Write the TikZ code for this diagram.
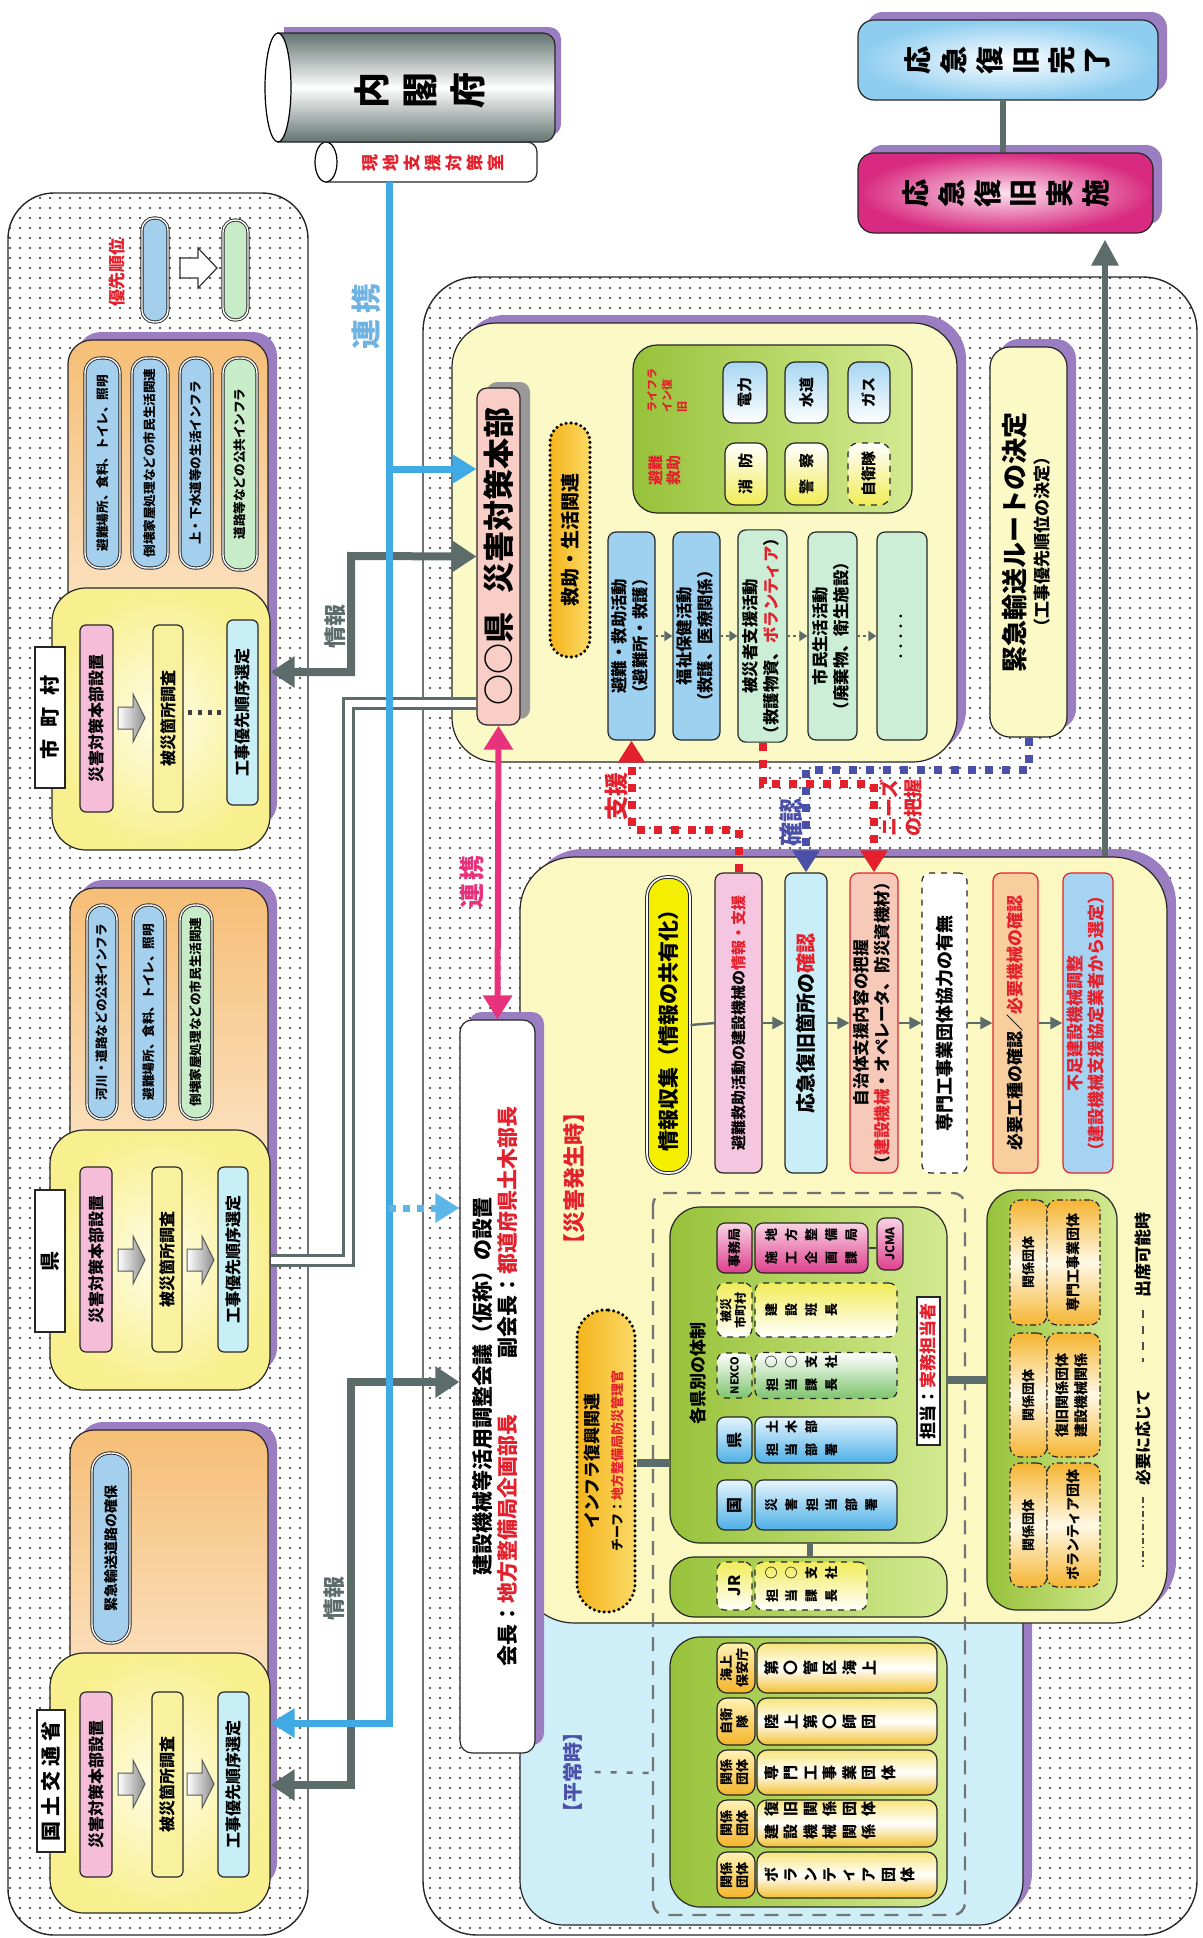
\documentclass[tikz,border=0pt]{standalone}
\usepackage{fontspec}
\setmainfont{Noto Sans CJK JP}
\usepackage{graphicx}
\usetikzlibrary{patterns.meta,arrows.meta,shadows}

\definecolor{jred}{HTML}{E4202C}
\definecolor{shp}{HTML}{9B7DC2}
\definecolor{lnk}{HTML}{3FAAE4}
\definecolor{lnktxt}{HTML}{6FB3E3}
\definecolor{gln}{HTML}{5C6C6A}
\definecolor{mag}{HTML}{E8327C}
\definecolor{navy}{HTML}{4A4FA8}
\definecolor{orbg}{HTML}{F6BE76}
\definecolor{pillblue}{HTML}{A4D0EE}
\definecolor{pillgreen}{HTML}{C8ECC8}
\definecolor{ylin}{HTML}{FEFDE6}
\definecolor{ylout}{HTML}{F8EF8E}
\definecolor{stpink}{HTML}{F5BDD8}
\definecolor{styel}{HTML}{F8F29E}
\definecolor{stcyan}{HTML}{C9EFF6}
\definecolor{cylgray}{HTML}{637470}
\definecolor{prefy}{HTML}{FBF9C6}
\definecolor{hqpink}{HTML}{F8CEC6}
\definecolor{orA}{HTML}{F5B41C}
\definecolor{orB}{HTML}{FBDA66}
\definecolor{grA}{HTML}{97C23A}
\definecolor{grB}{HTML}{D4EA92}
\definecolor{lbA}{HTML}{A6D6F1}
\definecolor{lyA}{HTML}{F1EC55}
\definecolor{acblue}{HTML}{9ED0F0}
\definecolor{acgreen}{HTML}{CCEED6}
\definecolor{magA}{HTML}{D82A80}
\definecolor{magB}{HTML}{FCE2EF}
\definecolor{kbA}{HTML}{8ECDF0}
\definecolor{hassy}{HTML}{FBF8C2}
\definecolor{heicy}{HTML}{CFEFF8}
\definecolor{fyel}{HTML}{F4EF00}
\definecolor{fpink}{HTML}{F4C6E0}
\definecolor{fcyan}{HTML}{C9EEF8}
\definecolor{fsalm}{HTML}{F7C9B8}
\definecolor{forng}{HTML}{F9CE9E}
\definecolor{fblue}{HTML}{A7D3F2}
\definecolor{hmA}{HTML}{DE3F8C}
\definecolor{hmB}{HTML}{F9D3E5}
\definecolor{hyA}{HTML}{F2EC5A}
\definecolor{hgA}{HTML}{7DC46C}
\definecolor{hbA}{HTML}{4DAFE6}
\definecolor{hbB}{HTML}{E6F5FD}
\definecolor{kgA}{HTML}{F5B532}
\definecolor{kgB}{HTML}{FFF9E6}
\definecolor{phA}{HTML}{F4B42A}
\definecolor{phB}{HTML}{FFF2B5}
\definecolor{plA}{HTML}{F7E57A}
\definecolor{plB}{HTML}{F2C130}

% font size / leading in pt
\newcommand\fz[2]{\fontsize{#1pt}{#2pt}\selectfont}
% text turned a quarter left (reads upwards)
\newcommand\rt[2]{\fz{#1}{#1}\rotatebox{90}{#2}}
\newcommand\rtt[3]{\fz{#1}{#2}\rotatebox{90}{\begin{tabular}{@{}c@{}}#3\end{tabular}}}
\newcommand\rttl[3]{\fz{#1}{#2}\rotatebox{90}{\begin{tabular}{@{}l@{}}#3\end{tabular}}}
% vertical writing turned a quarter left: one turned glyph per cell
\ExplSyntaxOn
\NewDocumentCommand\tate{O{1.25em}m}{\tl_map_inline:nn{#2}{\makebox[#1]{\rotatebox{90}{##1}}}}
\ExplSyntaxOff
% box node from its corners: style, name, x1, y1, x2, y2, text
\newcommand\bxn[7]{\node[#1,minimum width={(#5-(#3))*0.5pt},minimum height={(#6-(#4))*0.5pt}] (#2) at ({(#3+#5)/2},{(#4+#6)/2}) {#7};}
% grey block arrow pointing right
\newcommand\blockarrow[2]{\draw[barr,shift={(#1,#2)}] (0,-11) -- (15,-11) -- (15,-24) -- (27,0) -- (15,24) -- (15,11) -- (0,11) -- cycle;}

\begin{document}
\begin{tikzpicture}[x=0.5pt,y=-0.5pt,every node/.style={font=\bfseries},
  bx/.style={draw=black!85,line width=0.6pt,inner sep=0pt},
  psh/.style={general shadow={fill=shp,shadow xshift=4.5pt,shadow yshift=4pt}},
  dotreg/.style={draw=black!85,line width=0.7pt,rounded corners=23pt,pattern={Dots[distance=5pt,radius=0.6pt]},pattern color=black!85},
  orbox/.style={bx,rounded corners=12pt,top color=orbg,bottom color=white,psh},
  pillb/.style={bx,rounded corners=7.5pt,fill=pillblue,double=white,double distance=0.7pt,line width=0.45pt},
  pillg/.style={pillb,fill=pillgreen},
  ylbox/.style={bx,rounded corners=17pt,inner color=ylin,outer color=ylout},
  tabbox/.style={bx,fill=white},
  stp/.style={bx,rounded corners=3pt,fill=stpink},
  sty/.style={stp,fill=styel},
  stc/.style={stp,fill=stcyan},
  barr/.style={draw=black!65,line width=0.5pt,left color=white,right color=black!45},
  lbbox/.style={bx,rounded corners=5pt,top color=lbA,bottom color=white},
  lybox/.style={bx,rounded corners=5pt,top color=white,bottom color=lyA},
  acb/.style={bx,rounded corners=4pt,fill=acblue},
  acg/.style={acb,fill=acgreen},
  grbox/.style={bx,rounded corners=15pt,left color=grA,right color=grB},
  orpill/.style={bx,draw=black,line width=1.7pt,dash pattern=on 0pt off 2.5pt,line cap=round,left color=orA,right color=orB},
  hdmag/.style={bx,rounded corners=4pt,top color=hmB,bottom color=hmA},
  hdyel/.style={bx,rounded corners=4pt,top color=hyA,bottom color=white,dashed},
  hdgrn/.style={bx,rounded corners=4pt,top color=white,bottom color=hgA,dashed},
  hdblu/.style={bx,rounded corners=4pt,top color=hbB,bottom color=hbA},
  ddline/.style={dash pattern=on 3pt off 1.5pt on 0.8pt off 1.5pt},
  orgbx/.style={bx,rounded corners=5pt,ddline,top color=kgA,bottom color=kgA,middle color=kgB},
  phd/.style={bx,rounded corners=5pt,top color=phB,bottom color=phA},
  plg/.style={bx,rounded corners=5pt,top color=plA,bottom color=plB,middle color=white},
  fbox/.style={bx,rounded corners=4pt},
  garr/.style={draw=gln,line width=4pt,{Triangle[width=15pt,length=12pt]}-{Triangle[width=15pt,length=12pt]}},
  barrow/.style={draw=lnk,line width=3.5pt,-{Triangle[width=14pt,length=12pt]}},
  farr/.style={draw=gln,line width=1.2pt,-{Triangle[width=6pt,length=6pt]}},
  smallarr/.style={draw=gln,line width=1.4pt,dash pattern=on 1.4pt off 1.4pt,-{Triangle[width=5pt,length=4pt]}},
  rdot/.style={draw=jred,line width=4pt,dash pattern=on 4pt off 4.5pt,-{Triangle[width=13pt,length=11pt]}},
  ndot/.style={rdot,draw=navy}
]
\useasboundingbox (0,0) rectangle (1203,1938);

% ---------- grouped regions ----------
\draw[dotreg] (8,193) rectangle (308,1935);
\draw[dotreg,rounded corners=27pt] (423,277) rectangle (1197,1935);

% ---------- legend ----------
\node[text=jred] (prio) at (117,272) {\rt{8.5}{優先順位}};
\bxn{pillb,rounded corners=6pt}{lgb}{142}{218}{168}{322}{}
\draw[draw=black!80,fill=white,line width=0.6pt] (180,258) -- (198,258) -- (198,248) -- (217,268) -- (198,288) -- (198,278) -- (180,278) -- cycle;
\bxn{pillg,rounded corners=6pt}{lgg}{223}{220}{248}{320}{}

% ---------- municipality panel ----------
\bxn{orbox}{mo}{68}{340}{268}{835}{}
\bxn{pillb}{mp1}{85}{358}{120}{568}{\rt{6.3}{避難場所、食料、トイレ、照明}}
\bxn{pillb}{mp2}{132}{358}{168}{568}{\rt{6.3}{倒壊家屋処理などの市民生活関連}}
\bxn{pillb}{mp3}{180}{358}{212}{568}{\rt{6.3}{上・下水道等の生活インフラ}}
\bxn{pillg}{mp4}{223}{358}{257}{570}{\rt{6.3}{道路等などの公共インフラ}}
\bxn{ylbox}{my}{52}{588}{270}{850}{}
\bxn{tabbox}{mt}{35}{647}{65}{788}{\rt{10}{市\hspace{0.6em}町\hspace{0.6em}村}}
\bxn{stp}{ms1}{80}{625}{113}{812}{\rt{8}{災害対策本部設置}}
\blockarrow{118}{718}
\bxn{sty}{ms2}{153}{625}{183}{812}{\rt{8}{被災箇所調査}}
\foreach \q in {190,200,210,219} \fill[black!75] (\q-2,710) rectangle (\q+2,715);
\bxn{stc}{ms3}{227}{620}{258}{805}{\rt{8}{工事優先順序選定}}

% ---------- prefecture panel ----------
\bxn{orbox}{ko}{70}{888}{268}{1380}{}
\bxn{pillb}{kp1}{87}{905}{117}{1119}{\rt{6.3}{河川・道路などの公共インフラ}}
\bxn{pillb}{kp2}{133}{905}{165}{1119}{\rt{6.3}{避難場所、食料、トイレ、照明}}
\bxn{pillg}{kp3}{180}{905}{212}{1119}{\rt{6.3}{倒壊家屋処理などの市民生活関連}}
\bxn{ylbox}{ky}{50}{1130}{270}{1390}{}
\bxn{tabbox}{kt}{35}{1190}{65}{1332}{\rt{10}{県}}
\bxn{stp}{ks1}{80}{1167}{112}{1352}{\rt{8}{災害対策本部設置}}
\blockarrow{118}{1260}
\bxn{sty}{ks2}{152}{1167}{182}{1352}{\rt{8}{被災箇所調査}}
\blockarrow{187}{1260}
\bxn{stc}{ks3}{218}{1167}{248}{1352}{\rt{8}{工事優先順序選定}}

% ---------- national panel ----------
\bxn{orbox}{go}{70}{1430}{268}{1895}{}
\bxn{pillb,rounded corners=9pt}{gp1}{92}{1453}{130}{1643}{\rt{7}{緊急輸送道路の確保}}
\bxn{ylbox}{gy}{50}{1653}{270}{1913}{}
\bxn{tabbox}{gt}{37}{1710}{65}{1852}{\rt{10}{国\hspace{0.25em}土\hspace{0.25em}交\hspace{0.25em}通\hspace{0.25em}省}}
\bxn{stp}{gs1}{80}{1692}{112}{1877}{\rt{8}{災害対策本部設置}}
\blockarrow{118}{1784}
\bxn{sty}{gs2}{152}{1692}{183}{1877}{\rt{8}{被災箇所調査}}
\blockarrow{187}{1784}
\bxn{stc}{gs3}{218}{1692}{249}{1877}{\rt{8}{工事優先順序選定}}

% ---------- cabinet office drums ----------
\path[draw=black!85,line width=0.6pt,fill=white] (326,142) -- (527,142) arc[start angle=-90,end angle=0,radius=10] -- (537,172) arc[start angle=0,end angle=90,radius=10] -- (326,182) -- cycle;
\draw[fill=white,line width=0.6pt] (326,162) ellipse [x radius=11,y radius=20];
\path[fill=shp] (284,27) -- (549,27) arc[start angle=-90,end angle=0,radius=12] -- (561,124) arc[start angle=0,end angle=90,radius=12] -- (284,136) -- cycle;
\path[draw=black!85,line width=0.6pt,top color=cylgray,bottom color=cylgray,middle color=white] (278,33) -- (543,33) arc[start angle=-90,end angle=0,radius=12] -- (555,130) arc[start angle=0,end angle=90,radius=12] -- (278,142) -- cycle;
\draw[fill=white,line width=0.6pt] (278,87.5) ellipse [x radius=13,y radius=54.5];
\node (naikaku) at (420,90) {\fz{18}{18}\tate[24pt]{内閣府}};
\node[text=jred] (genchi) at (433,163) {\fz{8.5}{9}\tate[10.5pt]{現地支援対策室}};
\coordinate (gnb) at (389,182);

% ---------- prefecture headquarters block ----------
\bxn{bx,rounded corners=22pt,fill=prefy,psh}{pref}{452}{323}{957}{762}{}
\bxn{bx,rounded corners=5pt,fill=hqpink,general shadow={fill=black!40,shadow xshift=5pt,shadow yshift=3pt}}{hq}{477}{388}{520}{725}{\rt{15.5}{○○県\hspace{0.6em}災害対策本部}}
\bxn{orpill,rounded corners=9.5pt}{kyujo}{550}{423}{590}{657}{\rt{9.5}{救助・生活関連}}
\bxn{grbox,rounded corners=12pt}{life}{633}{345}{912}{513}{}
\node[text=jred] (lifet) at (668,390) {\rttl{5.5}{7.5}{ライフラ\\イン復\\旧}};
\node[text=jred] (hinant) at (667,470) {\rtt{7.5}{8.5}{避難\\救助}};
\bxn{lbbox}{den}{723}{362}{767}{423}{\rt{7.5}{電力}}
\bxn{lbbox}{sui}{785}{362}{828}{423}{\rt{7.5}{水道}}
\bxn{lbbox}{gas}{848}{362}{890}{423}{\rt{7.5}{ガス}}
\bxn{lybox}{sho}{725}{443}{767}{505}{\rt{7.5}{消\hspace{0.7em}防}}
\bxn{lybox}{kei}{785}{443}{828}{505}{\rt{7.5}{警\hspace{0.7em}察}}
\bxn{lybox,dashed}{jiei}{848}{443}{890}{505}{\rt{7.5}{自衛隊}}
\bxn{acb}{a1}{608}{532}{655}{740}{\rtt{8.2}{10.5}{避難・救助活動\\（避難所・救護）}}
\bxn{acb}{a2}{673}{532}{720}{740}{\rtt{8.2}{10.5}{福祉保健活動\\（救護、医療関係）}}
\bxn{acg}{a3}{738}{532}{787}{740}{\rtt{8.2}{10.5}{被災者支援活動\\（救護物資、\textcolor{jred}{ボランティア}）}}
\bxn{acg}{a4}{808}{532}{857}{740}{\rtt{8.2}{10.5}{市民生活活動\\（廃棄物、衛生施設）}}
\bxn{acg}{a5}{877}{532}{927}{740}{\rt{5}{・・・・・}}
\draw[smallarr] (a1.east) -- (a2.west);
\draw[smallarr] (a2.east) -- (a3.west);
\draw[smallarr] (a3.east) -- (a4.west);
\draw[smallarr] (a4.east) -- (a5.west);
\bxn{bx,rounded corners=10pt,fill=prefy,psh}{route}{990}{347}{1067}{737}{\rotatebox{90}{\begin{tabular}{@{}c@{}}\fz{13}{16}緊急輸送ルートの決定\\\fz{8.5}{10}（工事優先順位の決定）\end{tabular}}}

% ---------- recovery stages ----------
\bxn{bx,rounded corners=8pt,inner color=magB,outer color=magA,psh}{jisshi}{858}{153}{1153}{233}{\fz{14}{14}\tate[18pt]{応急復旧実施}}
\bxn{bx,rounded corners=8pt,inner color=white,outer color=kbA,psh}{kanryo}{858}{20}{1158}{100}{\fz{14}{14}\tate[18pt]{応急復旧完了}}
\draw[gln,line width=3pt] (kanryo.south -| 1003,0) -- (jisshi.north -| 1003,0);

% ---------- normal-time and disaster-time blocks ----------
\bxn{bx,rounded corners=22pt,fill=heicy,psh}{heijo}{520}{1560}{1023}{1925}{}
\bxn{bx,rounded corners=27pt,fill=hassy,psh}{hassei}{520}{857}{1167}{1623}{}
\node[text=jred] (hasseit) at (574,1178) {\rt{11}{【災害発生時】}};
\node[text=navy] (heijot) at (573,1772) {\rt{10}{【平常時】}};
\draw[black!55,line width=1.2pt,dash pattern=on 7pt off 5pt,rounded corners=6pt] (653,1193) rectangle (965,1915);
\draw[black!55,line width=1.2pt,dash pattern=on 3pt off 5pt] (heijot.east) ++(5,0) -- (653,1773);

\bxn{orpill,rounded corners=14pt}{infra}{577}{1310}{635}{1612}{\rotatebox{90}{\begin{tabular}{@{}c@{}}\fz{8.5}{12}インフラ復興関連\\\fz{6.5}{8}チーフ：\textcolor{jred}{地方整備局防災管理官}\end{tabular}}}

% per-prefecture set-up
\bxn{grbox}{kenbetsu}{670}{1207}{947}{1543}{}
\node (kbt) at (698,1373) {\rt{8.5}{各県別の体制}};
\bxn{hdmag}{r1h}{717}{1223}{752}{1273}{\rt{6.5}{事務局}}
\bxn{hdmag}{r1l}{755}{1223}{868}{1273}{\fz{6.5}{11.5}\begin{tabular}{@{}l@{}}\tate[10pt]{地方整備局}\\\tate[10pt]{施工企画課}\end{tabular}}
\bxn{hdmag}{jcma}{877}{1218}{903}{1270}{\rt{6}{JCMA}}
\bxn{hdyel}{r2h}{717}{1283}{752}{1337}{\rtt{6}{7}{被災\\市町村}}
\bxn{hdyel}{r2l}{755}{1283}{897}{1337}{\fz{6.5}{8}\makebox[64pt][l]{\tate[10pt]{建設班長}}}
\bxn{hdgrn}{r3h}{717}{1353}{752}{1398}{\rt{5.5}{NEXCO}}
\bxn{hdgrn}{r3l}{755}{1353}{897}{1398}{\fz{6.5}{11.5}\makebox[64pt][l]{\begin{tabular}{@{}l@{}}\tate[10pt]{○○支社}\\\tate[10pt]{担当課長}\end{tabular}}}
\bxn{hdblu}{r4h}{717}{1417}{752}{1463}{\rt{8}{県}}
\bxn{hdblu}{r4l}{755}{1417}{897}{1463}{\fz{6.5}{11.5}\makebox[64pt][l]{\begin{tabular}{@{}l@{}}\tate[10pt]{土木部}\\\tate[10pt]{担当部署}\end{tabular}}}
\bxn{hdblu}{r5h}{717}{1480}{752}{1530}{\rt{8}{国}}
\bxn{hdblu}{r5l}{755}{1480}{897}{1530}{\fz{6.5}{8}\makebox[64pt][l]{\tate[10pt]{災害担当部署}}}
\bxn{bx,fill=white}{tanto}{917}{1297}{940}{1445}{\rt{8.5}{担当：\textcolor{jred}{実務担当者}}}
\draw[black!75,line width=1pt] (r1l.east) -- (jcma.west |- r1l.east);

\bxn{grbox,rounded corners=12pt}{jr}{670}{1557}{947}{1617}{}
\bxn{hdyel}{jrh}{717}{1562}{752}{1610}{\rt{8}{JR}}
\bxn{hdyel}{jrl}{755}{1562}{867}{1610}{\fz{6.5}{11.5}\makebox[49pt][l]{\begin{tabular}{@{}l@{}}\tate[10pt]{○○支社}\\\tate[10pt]{担当課長}\end{tabular}}}

% related organisations
\bxn{grbox}{kankei}{987}{1190}{1117}{1610}{}
\bxn{orgbx}{k1a}{1010}{1200}{1047}{1325}{\rt{6.5}{関係団体}}
\bxn{orgbx}{k1b}{1047}{1200}{1100}{1325}{\rt{7}{専門工事業団体}}
\bxn{orgbx}{k2a}{1010}{1333}{1047}{1457}{\rt{6.5}{関係団体}}
\bxn{orgbx}{k2b}{1047}{1333}{1100}{1457}{\rtt{7}{9.5}{復旧関係団体\\建設機械関係}}
\bxn{orgbx}{k3a}{1010}{1463}{1047}{1587}{\rt{6.5}{関係団体}}
\bxn{orgbx}{k3b}{1047}{1463}{1100}{1587}{\rt{7}{ボランティア団体}}

% line-style key
\node (leg1) at (1143,1255) {\rt{8.5}{出席可能時}};
\draw[black!70,line width=1.3pt,dash pattern=on 4pt off 4pt] (1143,1310) -- (1143,1362);
\node (leg2) at (1143,1437) {\rt{8}{必要に応じて}};
\draw[black!70,line width=1.3pt,ddline] (1143,1497) -- (1143,1567);

% normal-time members
\bxn{grbox}{hgr}{670}{1637}{947}{1907}{}
\bxn{phd}{h1h}{717}{1643}{755}{1693}{\rtt{6.5}{8}{海上\\保安庁}}
\bxn{plg}{h1l}{757}{1643}{937}{1693}{\fz{7.5}{8}\makebox[85pt][l]{\tate[9.75pt]{第〇管区海上}}}
\bxn{phd}{h2h}{717}{1698}{755}{1745}{\rtt{6.5}{8}{自衛\\隊}}
\bxn{plg}{h2l}{757}{1698}{937}{1745}{\fz{7.5}{8}\makebox[85pt][l]{\tate[9.75pt]{陸上第〇師団}}}
\bxn{phd}{h3h}{717}{1750}{755}{1795}{\rtt{6.5}{8}{関係\\団体}}
\bxn{plg}{h3l}{757}{1750}{937}{1795}{\fz{7.5}{8}\makebox[85pt][l]{\tate[9.75pt]{専門工事業団体}}}
\bxn{phd}{h4h}{717}{1800}{755}{1847}{\rtt{6.5}{8}{関係\\団体}}
\bxn{plg}{h4l}{757}{1800}{937}{1847}{\fz{7.5}{11.5}\makebox[85pt][l]{\begin{tabular}{@{}l@{}}\tate[9.75pt]{復旧関係団体}\\\tate[9.75pt]{建設機械関係}\end{tabular}}}
\bxn{phd}{h5h}{717}{1852}{755}{1898}{\rtt{6.5}{8}{関係\\団体}}
\bxn{plg}{h5l}{757}{1852}{937}{1898}{\fz{7.5}{8}\makebox[85pt][l]{\tate[9.75pt]{ボランティア団体}}}

% disaster-time flow
\bxn{bx,rounded corners=10pt,fill=fyel,double=white,double distance=0.8pt,line width=0.5pt}{f1}{647}{877}{690}{1173}{\rt{10.5}{情報収集（情報の共有化）}}
\bxn{fbox,fill=fpink}{f2}{715}{873}{762}{1173}{\rt{7.5}{避難救助活動の建設機械の\textcolor{jred}{情報・支援}}}
\bxn{fbox,fill=fcyan}{f3}{785}{873}{827}{1173}{\rt{10}{応急復旧箇所の\textcolor{jred}{確認}}}
\bxn{fbox,draw=jred,fill=fsalm}{f4}{850}{873}{898}{1173}{\rtt{8.3}{10.5}{自治体支援内容の把握\\（\textcolor{jred}{建設機械}・オペレータ、防災資機材）}}
\bxn{fbox,fill=white,dashed}{f5}{922}{873}{967}{1173}{\rt{9}{専門工事業団体協力の有無}}
\bxn{fbox,draw=jred,fill=forng}{f6}{993}{873}{1038}{1173}{\rt{8.5}{必要工種の確認／\textcolor{jred}{必要機械の確認}}}
\bxn{fbox,draw=jred,fill=fblue}{f7}{1063}{873}{1113}{1173}{\color{jred}\rtt{8.5}{10.5}{不足建設機械調整\\（建設機械支援協定業者から選定）}}
\draw[gln,line width=1.2pt] (f1.east) -- (f2.west);
\draw[farr] (f2.east) -- (f3.west);
\draw[farr] (f3.east) -- (f4.west);
\draw[farr] (f4.east) -- (f5.west);
\draw[farr] (f5.east) -- (f6.west);
\draw[farr] (f6.east) -- (f7.west);

% construction machinery council
\bxn{bx,rounded corners=6pt,fill=white,psh}{kaigi}{460}{1020}{535}{1753}{\rotatebox{90}{\begin{tabular}{@{}c@{}}\fz{10.5}{13}建設機械等活用調整会議（仮称）の設置\\\fz{10.5}{13}会長：\textcolor{jred}{地方整備局企画部長}\hspace{2.7em}副会長：\textcolor{jred}{都道府県土木部長}\end{tabular}}}

% grey connectors between blocks
\draw[draw=gln,line width=4pt] (infra.east |- 0,1463) -- (kenbetsu.west |- 0,1463);
\draw[draw=gln,line width=4pt] (kenbetsu.east |- 0,1380) -- (kankei.west |- 0,1380);
\draw[draw=gln,line width=3pt] (kenbetsu.south -| 810,0) -- (jr.north -| 810,0);

% ---------- information lines ----------
\draw[garr] (hq.west) -- (351,556) -- (351,672) -- (my.east |- 0,672);
\draw[draw=gln,line width=1.5pt,double=white,double distance=3.5pt] (hq.west |- 0,703) -- (348,703) -- (348,1260) -- (ky.east |- 0,1260);
\draw[garr] (kaigi.west |- 0,1382) -- (351,1382) -- (351,1785) -- (gy.east |- 0,1785);
\node[text=gln] (info1) at (335,626) {\rt{11}{情報}};
\node[text=gln] (info2) at (334,1598) {\rt{11}{情報}};

% ---------- liaison lines ----------
\draw[barrow] (gnb) -- (389,1723) -- (gy.east |- 0,1723);
\draw[barrow] (389,469) -- (hq.west |- 0,469);
\draw[barrow,line width=3.5pt,dash pattern=on 3.5pt off 3.5pt,draw=lnk!85] (389,1208) -- (kaigi.west |- 0,1208);
\node[text=lnktxt] (renk1) at (366,316) {\rt{15}{連\hspace{0.2em}携}};
\draw[draw=mag,line width=3pt,{Triangle[width=14pt,length=12pt]}-{Triangle[width=14pt,length=12pt]}] (hq.south) -- (kaigi.north);
\node[text=mag] (renk2) at (472,882) {\rt{12.5}{連\hspace{0.15em}携}};

% ---------- dotted support / check lines ----------
\draw[rdot] (f2.north) -- (f2.north |- 0,830) -- (a1.south |- 0,830) -- (a1.south);
\draw[ndot] (route.south) -- (route.south |- 0,770) -- (f3.north |- 0,770) -- (f3.north);
\draw[rdot] (a3.south) -- (a3.south |- 0,784) -- (f4.north |- 0,784) -- (f4.north);
\node[text=jred] (shient) at (616,796) {\rt{12}{支援}};
\node[text=navy] (kakut) at (791,822) {\rt{12}{確認}};
\node[text=jred] (needst) at (904,808) {\rtt{9.5}{12}{ニーズ\\の把握}};

% ---------- route to recovery ----------
\draw[draw=gln,line width=3pt,-{Triangle[width=13pt,length=13pt]}] (hassei.north -| 1105,0) -- ([yshift=-3pt]jisshi.south -| 1105,0);
\end{tikzpicture}
\end{document}
